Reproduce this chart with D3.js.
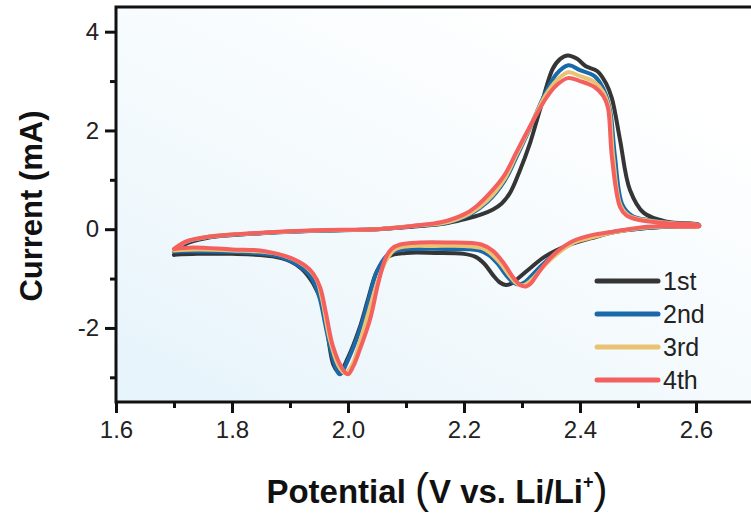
<!DOCTYPE html>
<html>
<head>
<meta charset="utf-8">
<script src="https://cdn.jsdelivr.net/npm/d3@7"></script>
<style>
    html, body { margin: 0; padding: 0; background: #fff; }
    svg { display: block; font-family: 'Liberation Sans', Arial, sans-serif; }
</style>
</head>
<body>
<svg id="chart" width="751" height="516"></svg>
<script>
// cycle labels and colours
var cycleNames = ['1st', '2nd', '3rd', '4th'];
var cycleColors = ['#353535', '#1a69ab', '#e9c372', '#f3605e'];

// [potential (V), current (mA)] -- anodic sweep 1.7 -> 2.6
var anodic1 = [[1.70, -0.52], [1.72, -0.30], [1.76, -0.17], [1.85, -0.08], [1.95, -0.03], [2.05, 0.00],
    [2.12, 0.06], [2.17, 0.12], [2.20, 0.20], [2.23, 0.30], [2.25, 0.40], [2.265, 0.52], [2.28, 0.75],
    [2.295, 1.15], [2.314, 1.75], [2.331, 2.42], [2.353, 3.25], [2.366, 3.45], [2.379, 3.52], [2.395, 3.45],
    [2.41, 3.30], [2.43, 3.20], [2.445, 2.95], [2.455, 2.65], [2.469, 1.81], [2.486, 0.80], [2.51, 0.33],
    [2.55, 0.15], [2.605, 0.09]];
var anodic2 = [[1.70, -0.45], [1.72, -0.27], [1.76, -0.16], [1.85, -0.08], [1.95, -0.03], [2.05, 0.00],
    [2.12, 0.07], [2.17, 0.13], [2.21, 0.30], [2.24, 0.55], [2.27, 0.98], [2.29, 1.45], [2.31, 1.95],
    [2.34, 2.75], [2.36, 3.15], [2.38, 3.32], [2.40, 3.22], [2.425, 3.10], [2.44, 2.85], [2.452, 2.40],
    [2.46, 1.50], [2.473, 0.50], [2.49, 0.27], [2.52, 0.18], [2.56, 0.12], [2.605, 0.08]];
var anodic3 = [[1.70, -0.43], [1.72, -0.26], [1.76, -0.155], [1.85, -0.075], [1.95, -0.025], [2.05, 0.00],
    [2.12, 0.075], [2.17, 0.14], [2.21, 0.32], [2.24, 0.58], [2.27, 1.02], [2.29, 1.50], [2.31, 1.97],
    [2.34, 2.70], [2.36, 3.02], [2.38, 3.18], [2.40, 3.10], [2.425, 2.98], [2.44, 2.78], [2.45, 2.45],
    [2.457, 1.50], [2.47, 0.48], [2.485, 0.27], [2.52, 0.17], [2.56, 0.12], [2.605, 0.08]];
var anodic4 = [[1.70, -0.40], [1.72, -0.25], [1.76, -0.15], [1.85, -0.07], [1.95, -0.02], [2.05, 0.00],
    [2.12, 0.08], [2.16, 0.14], [2.20, 0.30], [2.22, 0.45], [2.25, 0.80], [2.27, 1.10], [2.29, 1.55],
    [2.31, 2.00], [2.343, 2.68], [2.36, 2.92], [2.379, 3.06], [2.40, 3.00], [2.425, 2.88], [2.44, 2.70],
    [2.448, 2.47], [2.455, 1.46], [2.469, 0.45], [2.48, 0.28], [2.50, 0.19], [2.55, 0.12], [2.605, 0.08]];

// cathodic sweep 2.6 -> 1.7
var cathodic1 = [[2.605, 0.06], [2.55, 0.05], [2.51, 0.02], [2.46, -0.06], [2.42, -0.18], [2.38, -0.32],
    [2.34, -0.55], [2.315, -0.78], [2.295, -0.98], [2.282, -1.10], [2.272, -1.13], [2.262, -1.08], [2.25, -0.93],
    [2.235, -0.70], [2.22, -0.56], [2.20, -0.50], [2.15, -0.48], [2.10, -0.48], [2.07, -0.55], [2.05, -0.85],
    [2.035, -1.40], [2.02, -2.00], [2.00, -2.60], [1.985, -2.90], [1.975, -2.75], [1.957, -1.56], [1.94, -1.10],
    [1.92, -0.80], [1.90, -0.65], [1.87, -0.55], [1.80, -0.50], [1.74, -0.50], [1.70, -0.52]];
var cathodic2 = [[2.605, 0.06], [2.55, 0.05], [2.52, 0.03], [2.47, -0.03], [2.43, -0.12], [2.39, -0.27],
    [2.36, -0.47], [2.335, -0.72], [2.315, -0.96], [2.304, -1.08], [2.295, -1.12], [2.285, -1.08], [2.272, -0.92],
    [2.258, -0.70], [2.242, -0.52], [2.225, -0.43], [2.17, -0.40], [2.12, -0.40], [2.09, -0.42], [2.07, -0.50],
    [2.05, -0.85], [2.035, -1.45], [2.02, -2.05], [2.00, -2.65], [1.986, -2.94], [1.976, -2.70], [1.962, -2.00],
    [1.95, -1.35], [1.935, -0.95], [1.91, -0.70], [1.88, -0.55], [1.82, -0.47], [1.75, -0.45], [1.70, -0.45]];
var cathodic3 = [[2.605, 0.055], [2.55, 0.055], [2.51, 0.03], [2.46, -0.06], [2.42, -0.17], [2.39, -0.27],
    [2.365, -0.46], [2.34, -0.72], [2.321, -0.97], [2.31, -1.09], [2.301, -1.14], [2.291, -1.10], [2.278, -0.93],
    [2.262, -0.68], [2.245, -0.48], [2.23, -0.38], [2.20, -0.34], [2.15, -0.34], [2.10, -0.35], [2.08, -0.42],
    [2.065, -0.65], [2.05, -1.10], [2.035, -1.70], [2.02, -2.30], [2.007, -2.75], [1.995, -2.92], [1.983, -2.75],
    [1.968, -2.20], [1.955, -1.40], [1.945, -1.00], [1.925, -0.74], [1.90, -0.58], [1.87, -0.48], [1.80, -0.43],
    [1.74, -0.41], [1.70, -0.43]];
var cathodic4 = [[2.605, 0.06], [2.55, 0.06], [2.515, 0.05], [2.457, -0.05], [2.42, -0.12], [2.388, -0.24],
    [2.36, -0.46], [2.34, -0.70], [2.325, -0.94], [2.315, -1.10], [2.307, -1.16], [2.297, -1.13], [2.285, -0.98],
    [2.268, -0.68], [2.25, -0.44], [2.23, -0.31], [2.17, -0.27], [2.124, -0.27], [2.09, -0.31], [2.075, -0.40],
    [2.065, -0.58], [2.052, -1.10], [2.038, -1.83], [2.02, -2.45], [2.009, -2.78], [2.00, -2.94], [1.99, -2.82],
    [1.974, -2.37], [1.962, -1.70], [1.952, -1.18], [1.94, -0.90], [1.925, -0.73], [1.905, -0.60], [1.871, -0.48],
    [1.848, -0.43], [1.80, -0.41], [1.733, -0.37], [1.70, -0.40]];

var xTicks = [1.6, 1.8, 2.0, 2.2, 2.4, 2.6];
var xMinorTicks = [1.7, 1.9, 2.1, 2.3, 2.5, 2.7];
var yTicks = [-2, 0, 2, 4];
var yMinorTicks = [-3, -1, 1, 3];

var cycles = [
    anodic1.concat(cathodic1),
    anodic2.concat(cathodic2),
    anodic3.concat(cathodic3),
    anodic4.concat(cathodic4)
];

var margin = {left: 116, top: 7, bottom: 402, right: 754};

var svg = d3.select('#chart');

var x = d3.scaleLinear().domain([1.6, 2.7]).range([margin.left, margin.right]);
var y = d3.scaleLinear().domain([-3.5, 4.5]).range([margin.bottom, margin.top]);

// soft blue wash in the lower left of the plot
var defs = svg.append('defs');
var grad = defs.append('linearGradient')
    .attr('id', 'bgGrad')
    .attr('x1', '0').attr('y1', '1')
    .attr('x2', '0.75').attr('y2', '0.1');
grad.append('stop').attr('offset', '0').attr('stop-color', '#e5f3fb');
grad.append('stop').attr('offset', '0.45').attr('stop-color', '#f2f9fc');
grad.append('stop').attr('offset', '1').attr('stop-color', '#ffffff');

svg.append('rect')
    .attr('x', margin.left)
    .attr('y', margin.top)
    .attr('width', margin.right - margin.left)
    .attr('height', margin.bottom - margin.top)
    .attr('fill', 'url(#bgGrad)');

// curves
var line = d3.line()
    .x(function (d) { return x(d[0]); })
    .y(function (d) { return y(d[1]); })
    .curve(d3.curveCatmullRom.alpha(0.5));

svg.append('g')
    .selectAll('path')
    .data(cycles)
    .enter().append('path')
    .attr('d', line)
    .attr('fill', 'none')
    .attr('stroke', function (d, i) { return cycleColors[i]; })
    .attr('stroke-width', 4)
    .attr('stroke-linejoin', 'round')
    .attr('stroke-linecap', 'round');

// axes
svg.append('g')
    .attr('transform', 'translate(0,' + margin.bottom + ')')
    .call(d3.axisBottom(x).tickValues(xTicks).tickSize(11).tickPadding(8)
        .tickFormat(d3.format('.1f')));
svg.append('g')
    .attr('transform', 'translate(0,' + margin.bottom + ')')
    .call(d3.axisBottom(x).tickValues(xMinorTicks).tickSize(6).tickFormat(''));

svg.append('g')
    .attr('transform', 'translate(' + margin.left + ',0)')
    .call(d3.axisLeft(y).tickValues(yTicks).tickSize(11).tickPadding(6)
        .tickFormat(function (d) { return d < 0 ? '-' + Math.abs(d) : d; }));
svg.append('g')
    .attr('transform', 'translate(' + margin.left + ',0)')
    .call(d3.axisLeft(y).tickValues(yMinorTicks).tickSize(6).tickFormat(''));

svg.selectAll('.domain').remove();
svg.selectAll('.tick line').attr('stroke', '#111').attr('stroke-width', 3);
svg.selectAll('.tick text')
    .attr('fill', '#222')
    .style('font-size', '24px')
    .style('font-family', "'Liberation Sans', Arial, sans-serif");

// frame (right side runs off the page)
svg.append('path')
    .attr('d', 'M' + (margin.right + 10) + ',' + margin.top + 'H' + margin.left + 'V' + margin.bottom + 'H' + (margin.right + 10))
    .attr('fill', 'none')
    .attr('stroke', '#111')
    .attr('stroke-width', 3);

// axis titles
svg.append('text')
    .attr('transform', 'translate(42,206) rotate(-90)')
    .attr('text-anchor', 'middle')
    .style('font-size', '31px')
    .style('font-weight', 'bold')
    .attr('fill', '#111')
    .text('Current (mA)');

var xt = svg.append('text')
    .attr('x', 437)
    .attr('y', 503)
    .attr('text-anchor', 'middle')
    .style('font-size', '33px')
    .style('font-weight', 'bold')
    .attr('fill', '#111');
xt.append('tspan').text('Potential ');
xt.append('tspan').style('font-size', '42px').style('font-weight', 'normal').text('(');
xt.append('tspan').text('V vs. Li/Li');
xt.append('tspan').style('font-size', '18px').attr('dy', -15).text('+');
xt.append('tspan').style('font-size', '42px').style('font-weight', 'normal').attr('dy', 15).text(')');

// legend
var legend = svg.append('g')
    .selectAll('g')
    .data(cycleNames)
    .enter().append('g')
    .attr('transform', function (d, i) { return 'translate(597,' + (281 + i * 33) + ')'; });
legend.append('line')
    .attr('x1', 0).attr('x2', 61)
    .attr('stroke', function (d, i) { return cycleColors[i]; })
    .attr('stroke-width', 5)
    .attr('stroke-linecap', 'round');
legend.append('text')
    .attr('x', 66)
    .attr('dy', '0.36em')
    .style('font-size', '25px')
    .attr('fill', '#222')
    .text(function (d) { return d; });
</script>
</body>
</html>
